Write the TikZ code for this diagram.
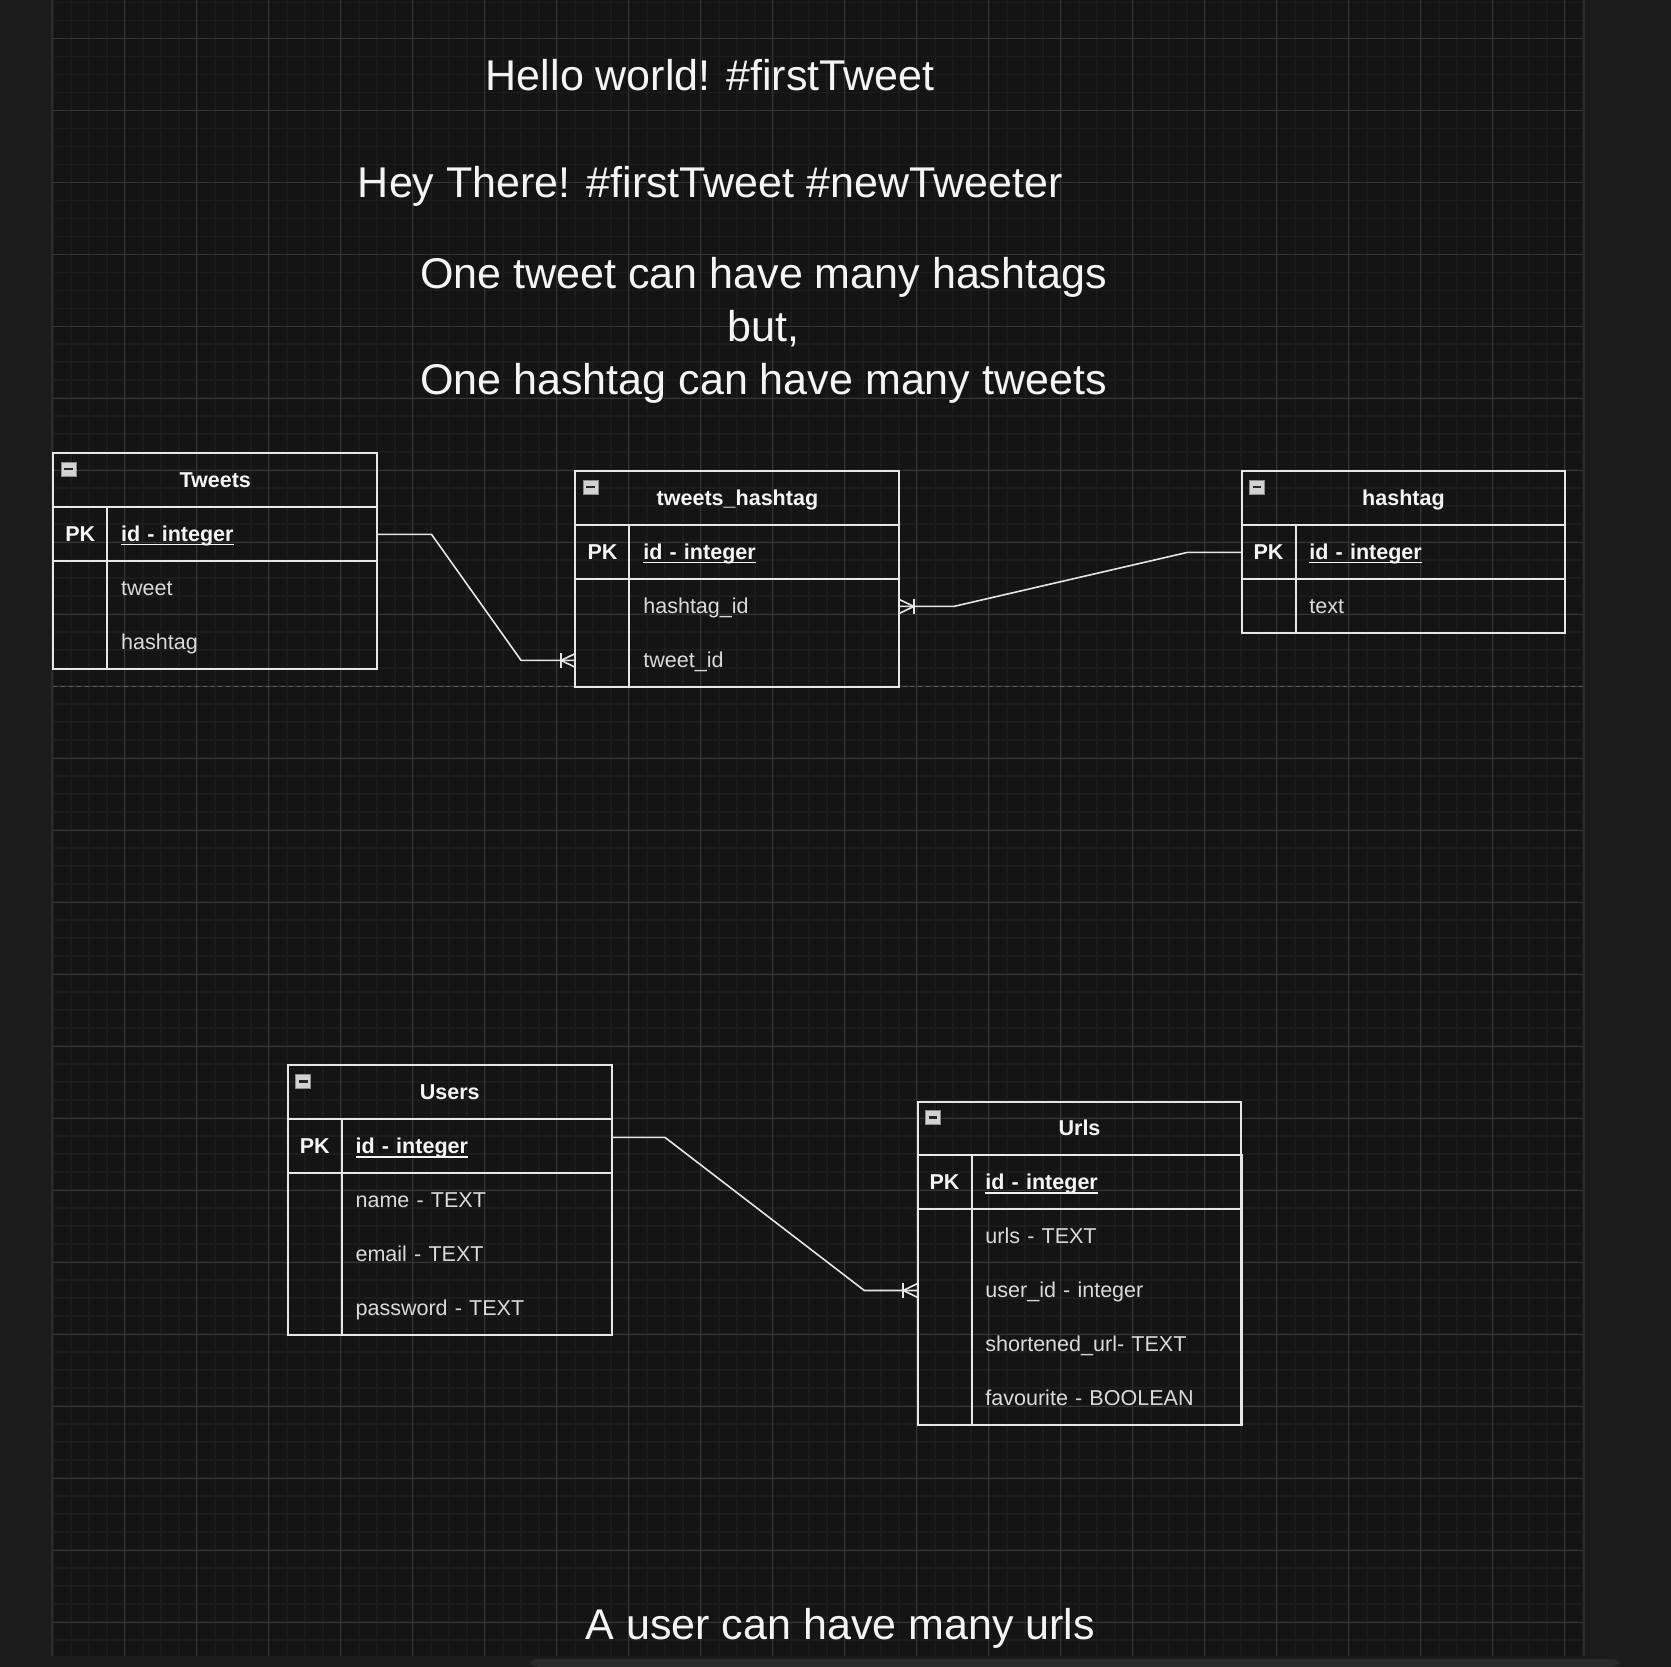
\documentclass[tikz,border=0pt]{standalone}
\usepackage{fontspec}
\setmainfont{Liberation Sans}
\usepackage{xcolor}
\usetikzlibrary{positioning, calc}

\definecolor{canvas}{HTML}{141414}
\definecolor{chrome}{HTML}{1B1B1B}
\definecolor{minorln}{HTML}{1C1C1C}
\definecolor{majorln}{HTML}{363636}
\definecolor{edgeln}{HTML}{2C2C2C}
\definecolor{tblline}{HTML}{E6E6E6}
\definecolor{hdtxt}{HTML}{F4F4F4}
\definecolor{fldtxt}{HTML}{DADADA}
\definecolor{sepgray}{HTML}{5C5C5C}
\definecolor{scrollc}{HTML}{2A2A2A}

\newcommand{\keyname}[1]{\setbox0\hbox{#1}\rlap{\rule[-1.9pt]{\wd0}{0.6pt}}\box0}

\tikzset{
  cellbox/.style={inner sep=0pt, outer sep=0pt, minimum height=1.0134cm, text height=10.4pt, text depth=2.4pt},
  hdr/.style={cellbox, draw=tblline, line width=1.07pt, minimum width=6.08cm, anchor=north west, text=hdtxt, font=\fontsize{11.5}{13.8}\selectfont\bfseries},
  keycell/.style={cellbox, draw=tblline, line width=1.07pt, minimum width=1.0134cm, text=hdtxt, font=\fontsize{11.5}{13.8}\selectfont\bfseries},
  pkfield/.style={cellbox, draw=tblline, line width=1.07pt, text width=4.547cm, inner xsep=0.26cm, align=left, text=hdtxt, font=\fontsize{11.5}{13.8}\selectfont\bfseries},
  field/.style={cellbox, text width=4.547cm, inner xsep=0.26cm, align=left, text=fldtxt, font=\fontsize{11.5}{13.8}\selectfont},
  tblframe/.style={draw=tblline, line width=1.07pt},
  minbox/.style={draw=gray!90, fill=gray!35!white, line width=0.5pt, minimum size=0.28cm, inner sep=0pt,
    path picture={\draw[black!85, line width=1.1pt] ([xshift=1.6pt]path picture bounding box.west) -- ([xshift=-1.6pt]path picture bounding box.east);}},
  conn/.style={draw=tblline, line width=0.85pt},
  bigtext/.style={text=hdtxt, font=\fontsize{22.98}{28.06}\selectfont, inner sep=0pt},
  crowfoot/.pic={
    \draw[conn] (-13.5,-6.8) -- (-13.5,6.8);
    \draw[conn] (0,-6.5) -- (-13.5,0) -- (0,6.5);
  }
}

\begin{document}
\begin{tikzpicture}[x=0.02cm, y=-0.02cm]
    \useasboundingbox (0,0) rectangle (1568,1564);
    \fill[chrome] (0,0) rectangle (1568,1564);
    \fill[canvas] (49,0) rectangle (1486,1554);

    % grid
    \foreach \k in {0,...,85}
        \draw[minorln, line width=0.8pt] ({49.7+\k*16.89},0) -- ++(0,1554);
    \foreach \k in {0,...,91}
        \draw[minorln, line width=0.8pt] (49,{2.12+\k*16.89}) -- ++(1437,0);
    \foreach \k in {0,...,21}
        \draw[majorln, line width=0.55pt] ({49.7+\k*67.56},0) -- ++(0,1554);
    \foreach \k in {0,...,22}
        \draw[majorln, line width=0.55pt] (49,{35.9+\k*67.56}) -- ++(1437,0);
    \draw[edgeln, line width=1pt] (49,0) -- (49,1554) (1486,0) -- (1486,1554);
    \fill[scrollc, rounded corners=4pt] (497,1556.5) rectangle (1520,1564);

    \draw[sepgray, line width=0.6pt, dash pattern=on 2.1pt off 2.1pt] (50,644) -- (1486,644);

    % notes
    \node[bigtext, anchor=base] (hello) at (666.5,84.5) {Hello world! \#firstTweet};
    \node[bigtext, anchor=base] (hey) at (666.5,185.5) {Hey There! \#firstTweet \#newTweeter};
    \node[bigtext, align=center] (manymany) at (716.5,310) {One tweet can have many hashtags\\but,\\One hashtag can have many tweets};
    \node[bigtext, anchor=base] (oneuser) at (788.5,1538.5) {A user can have many urls};

    % Tweets
    \node[hdr] (tw) at (50,425.5) {Tweets};
    \node[keycell, anchor=north west] (tw-pk) at (tw.south west) {PK};
    \node[pkfield, right=0pt of tw-pk] (tw-id) {\keyname{id - integer}};
    \node[field, below=0pt of tw-id] (tw-tweet) {tweet};
    \node[field, below=0pt of tw-tweet] (tw-hash) {hashtag};
    \draw[tblframe] (tw-pk.south west) rectangle (tw-hash.south east);
    \draw[tblframe] (tw-pk.south east) -- (tw-pk.south east |- tw-hash.south);
    \node[minbox] (tw-min) at ($(tw.north west)+(14.5,15)$) {};

    % tweets_hashtag
    \node[hdr] (th) at (540,442.4) {tweets\_hashtag};
    \node[keycell, anchor=north west] (th-pk) at (th.south west) {PK};
    \node[pkfield, right=0pt of th-pk] (th-id) {\keyname{id - integer}};
    \node[field, below=0pt of th-id] (th-hid) {hashtag\_id};
    \node[field, below=0pt of th-hid] (th-tid) {tweet\_id};
    \draw[tblframe] (th-pk.south west) rectangle (th-tid.south east);
    \draw[tblframe] (th-pk.south east) -- (th-pk.south east |- th-tid.south);
    \node[minbox] (th-min) at ($(th.north west)+(14.5,15)$) {};

    % hashtag
    \node[hdr] (ht) at (1165,442.4) {hashtag};
    \node[keycell, anchor=north west] (ht-pk) at (ht.south west) {PK};
    \node[pkfield, right=0pt of ht-pk] (ht-id) {\keyname{id - integer}};
    \node[field, below=0pt of ht-id] (ht-text) {text};
    \draw[tblframe] (ht-pk.south west) rectangle (ht-text.south east);
    \draw[tblframe] (ht-pk.south east) -- (ht-pk.south east |- ht-text.south);
    \node[minbox] (ht-min) at ($(ht.north west)+(14.5,15)$) {};

    % Users
    \node[hdr] (us) at (270,999.8) {Users};
    \node[keycell, anchor=north west] (us-pk) at (us.south west) {PK};
    \node[pkfield, right=0pt of us-pk] (us-id) {\keyname{id - integer}};
    \node[field, below=0pt of us-id] (us-name) {name - TEXT};
    \node[field, below=0pt of us-name] (us-mail) {email - TEXT};
    \node[field, below=0pt of us-mail] (us-pass) {password - TEXT};
    \draw[tblframe] (us-pk.south west) rectangle (us-pass.south east);
    \draw[tblframe] (us-pk.south east) -- (us-pk.south east |- us-pass.south);
    \node[minbox] (us-min) at ($(us.north west)+(14.5,15)$) {};

    % Urls
    \node[hdr] (ur) at (861,1033.6) {Urls};
    \node[keycell, anchor=north west] (ur-pk) at (ur.south west) {PK};
    \node[pkfield, right=0pt of ur-pk] (ur-id) {\keyname{id - integer}};
    \node[field, below=0pt of ur-id] (ur-url) {urls - TEXT};
    \node[field, below=0pt of ur-url] (ur-uid) {user\_id - integer};
    \node[field, below=0pt of ur-uid] (ur-short) {shortened\_url- TEXT};
    \node[field, below=0pt of ur-short] (ur-fav) {favourite - BOOLEAN};
    \draw[tblframe] (ur-pk.south west) rectangle (ur-fav.south east);
    \draw[tblframe] (ur-pk.south east) -- (ur-pk.south east |- ur-fav.south);
    \node[minbox] (ur-min) at ($(ur.north west)+(14.5,15)$) {};

    % relations
    \draw[conn] (tw-id.east) -- ++(51,0) -- ($(th-pk.west |- th-tid)+(-51,0)$) -- (th-pk.west |- th-tid);
    \pic at (th-pk.west |- th-tid) {crowfoot};
    \draw[conn] (ht-pk.west) -- ++(-51,0) -- ($(th-hid.east)+(51,0)$) -- (th-hid.east);
    \pic[rotate=180] at (th-hid.east) {crowfoot};
    \draw[conn] ($(us-id.east)+(0,-8.5)$) -- ++(50,0) -- ($(ur-pk.west |- ur-uid)+(-50,0)$) -- (ur-pk.west |- ur-uid);
    \pic at (ur-pk.west |- ur-uid) {crowfoot};
\end{tikzpicture}
\end{document}
